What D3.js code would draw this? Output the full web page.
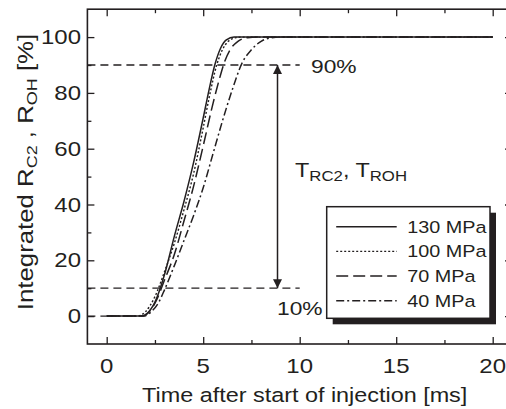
<!DOCTYPE html>
<html>
<head>
<meta charset="utf-8">
<script src="https://cdn.jsdelivr.net/npm/d3@7/dist/d3.min.js"></script>
<style>
  html, body { margin: 0; padding: 0; background: #fff; }
  svg { display: block; }
  text { font-family: "Liberation Sans", Arial, Helvetica, sans-serif; fill: #231f20; }
</style>
</head>
<body>
<svg id="chart" width="506" height="409"></svg>
<script>
// Integrated chemiluminescence R_C2 / R_OH versus time, four injection pressures
const t130 = [0, 1.8, 2.1, 2.5, 3.0, 3.5, 4.0, 4.5, 5.0, 5.3, 5.6, 5.9, 6.2, 6.6, 20];
const v130 = [0, 0, 1, 5, 15, 28.5, 41, 55, 71, 81, 90, 96, 99, 100, 100];

const t100 = [0, 1.6, 2.0, 2.5, 3.0, 3.5, 4.0, 4.5, 5.0, 5.3, 5.7, 6.0, 6.3, 6.7, 7.0, 20];
const v100 = [0, 0, 1.5, 7, 16, 26, 38, 51, 67.5, 78, 90, 95.5, 98.5, 99.8, 100, 100];

const t70 = [0, 1.8, 2.2, 2.6, 3.0, 3.5, 4.0, 4.5, 5.0, 5.5, 5.8, 6.1, 6.4, 6.8, 7.3, 7.8, 20];
const v70 = [0, 0, 1.5, 6, 13, 22, 34, 46.5, 61, 76, 84, 91, 95.5, 98.5, 99.8, 100, 100];

const t40 = [0, 1.9, 2.3, 2.7, 3.0, 3.5, 4.0, 4.5, 5.0, 5.5, 6.0, 6.5, 7.0, 7.5, 8.0, 8.5, 9.0, 20];
const v40 = [0, 0, 1.5, 5, 9.5, 18, 27, 36, 46, 58, 70, 81, 90.5, 95.5, 98.5, 99.7, 100, 100];

const seriesNames = ["130 MPa", "100 MPa", "70 MPa", "40 MPa"];
const seriesTimes = [t130, t100, t70, t40];
const seriesValues = [v130, v100, v70, v40];
const seriesDash = [null, "2,2", "12,5", "8,3,2,3"];

const xTicks = [0, 5, 10, 15, 20];
const xMinor = [2.5, 7.5, 12.5, 17.5];
const yTicks = [0, 20, 40, 60, 80, 100];
const yMinor = [10, 30, 50, 70, 90];

const levelLow = 10, levelHigh = 90, levelEnd = 10;
const arrowTime = 8.85;

const W = 506, H = 409;
const margin = { left: 87.4, right: -6, top: 9.2, bottom: 65 };

const svg = d3.select("#chart");
const x = d3.scaleLinear().domain([-1, 21]).range([margin.left, W - margin.right]);
const y = d3.scaleLinear().domain([-10, 110]).range([H - margin.bottom, margin.top]);

const ink = "#231f20";
const SX = 1.2; // horizontally widened lettering

function label(g, px, py, str, size, anchor, rot) {
  const t = g.append("text")
    .attr("transform", `translate(${px},${py})` + (rot ? ` rotate(${rot})` : "") + ` scale(${SX},1)`)
    .attr("text-anchor", anchor || "start")
    .style("font-size", size + "px");
  if (str) t.text(str);
  return t;
}

// reference levels (dashed)
const refs = svg.append("g").attr("stroke", ink).attr("stroke-width", 1.3)
  .attr("stroke-dasharray", "8,5").attr("fill", "none");
[[0, 0], [levelLow, levelEnd], [levelHigh, levelEnd]].forEach(([lv, end]) => {
  refs.append("line").attr("x1", x(-1)).attr("x2", x(end)).attr("y1", y(lv)).attr("y2", y(lv));
});

// curves
const line = d3.line().x(d => x(d[0])).y(d => y(d[1])).curve(d3.curveMonotoneX);
seriesNames.forEach((n, i) => {
  const pts = seriesTimes[i].map((t, k) => [t, seriesValues[i][k]]);
  svg.append("path").datum(pts)
    .attr("d", line)
    .attr("fill", "none")
    .attr("stroke", ink)
    .attr("stroke-width", i === 1 ? 1.4 : 1.5)
    .attr("stroke-dasharray", seriesDash[i]);
});

// double-headed arrow between 10% and 90%
const defs = svg.append("defs");
defs.append("marker").attr("id", "head").attr("viewBox", "0 0 10 10")
  .attr("refX", 10).attr("refY", 5).attr("markerWidth", 9).attr("markerHeight", 9)
  .attr("markerUnits", "userSpaceOnUse").attr("orient", "auto-start-reverse")
  .append("path").attr("d", "M0,0 L10,5 L0,10 Z").attr("fill", ink);
svg.append("line")
  .attr("x1", x(arrowTime)).attr("x2", x(arrowTime))
  .attr("y1", y(levelLow)).attr("y2", y(levelHigh))
  .attr("stroke", ink).attr("stroke-width", 1.5)
  .attr("marker-start", "url(#head)").attr("marker-end", "url(#head)");

// annotation texts
const ann = svg.append("g");
label(ann, 311, 73, "90%", 19);
label(ann, 277, 315, "10%", 19);
const tl = label(ann, 295, 176.7, "", 19.5);
tl.append("tspan").text("T");
tl.append("tspan").attr("dy", 4).style("font-size", "14px").text("RC2");
tl.append("tspan").attr("dy", -4).text(", T");
tl.append("tspan").attr("dy", 4).style("font-size", "14px").text("ROH");

// frame and ticks
const axG = svg.append("g").attr("class", "axes");
function styleAxis(g) {
  g.select(".domain").remove();
  g.selectAll("line").attr("stroke", ink).attr("stroke-width", 1.3);
  g.selectAll("text").remove();
}
const mk = (gen, scale, vals, size, tx, ty) =>
  axG.append("g").attr("transform", `translate(${tx},${ty})`)
    .call(gen(scale).tickValues(vals).tickSize(size).tickFormat(""))
    .call(styleAxis);

const x0 = x.range()[0], x1 = x.range()[1], y0 = y.range()[0], y1 = y.range()[1];
mk(d3.axisBottom, x, xTicks, -7, 0, y0);
mk(d3.axisBottom, x, xMinor, -4, 0, y0);
mk(d3.axisTop, x, xTicks, -7, 0, y1);
mk(d3.axisTop, x, xMinor, -4, 0, y1);
mk(d3.axisLeft, y, yTicks, -7, x0, 0);
mk(d3.axisLeft, y, yMinor, -4, x0, 0);
mk(d3.axisRight, y, yTicks, -7, x1, 0);
mk(d3.axisRight, y, yMinor, -4, x1, 0);

axG.append("rect").attr("x", x0).attr("y", y1)
  .attr("width", x1 - x0).attr("height", y0 - y1)
  .attr("fill", "none").attr("stroke", ink).attr("stroke-width", 1.6);

// tick labels
const tickG = svg.append("g");
xTicks.forEach(v => label(tickG, x(v), 372.5, String(v), 20, "middle"));
yTicks.forEach(v => label(tickG, 81, y(v) + 7, String(v), 20, "end"));

// axis titles
label(svg, (x(0) + x(20)) / 2 + 5, 401.5, "Time after start of injection [ms]", 19.5, "middle");
const yl = label(svg, 33, 172, "", 21.5, "middle", -90);
yl.append("tspan").text("Integrated R");
yl.append("tspan").attr("dy", 4).style("font-size", "15px").text("C2");
yl.append("tspan").attr("dy", -4).text(" , R");
yl.append("tspan").attr("dy", 4).style("font-size", "15px").text("OH");
yl.append("tspan").attr("dy", -4).text(" [%]");

// legend with drop shadow
const lg = svg.append("g");
const lx = 326.7, ly = 206.7, lw = 163.3, lh = 111.6;
lg.append("rect").attr("x", lx + 6).attr("y", ly + 6).attr("width", lw).attr("height", lh).attr("fill", ink);
lg.append("rect").attr("x", lx).attr("y", ly).attr("width", lw).attr("height", lh)
  .attr("fill", "#fff").attr("stroke", ink).attr("stroke-width", 1.5);
const rowY = d3.scalePoint().domain(seriesNames).range([ly + 20, ly + 94]);
seriesNames.forEach((n, i) => {
  lg.append("line").attr("x1", lx + 9.5).attr("x2", lx + 70).attr("y1", rowY(n)).attr("y2", rowY(n))
    .attr("stroke", ink).attr("stroke-width", i === 1 ? 1.4 : 1.5)
    .attr("stroke-dasharray", seriesDash[i]);
  label(lg, lx + 80.5, rowY(n) + 6, n, 16.5);
});
</script>
</body>
</html>
